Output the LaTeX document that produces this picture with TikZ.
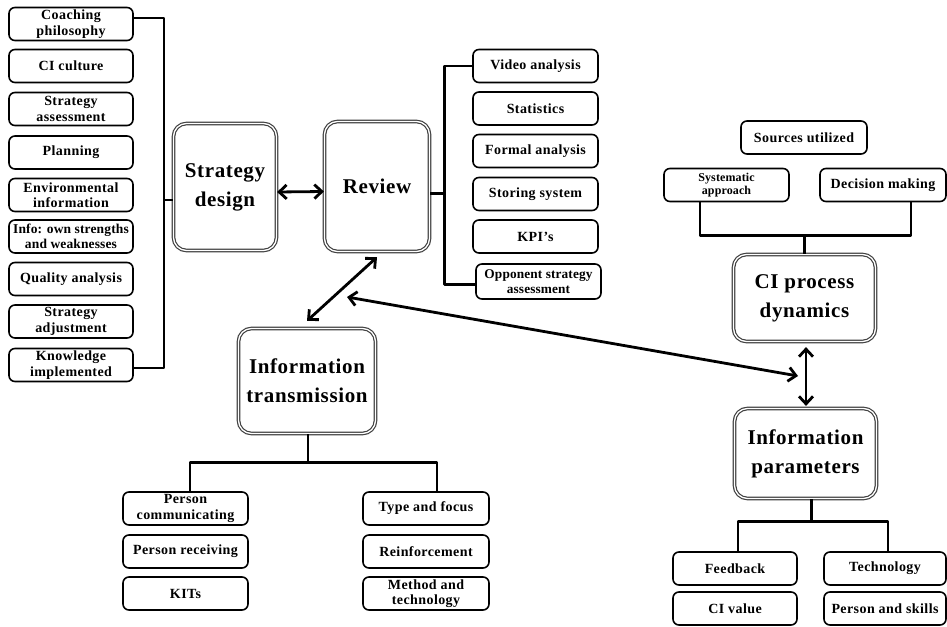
\documentclass[tikz,border=0pt]{standalone}
\usepackage{fontspec}
\setmainfont{Liberation Serif}
\newfontfamily\boxfont[LetterSpace=3]{Liberation Serif}
\newfontfamily\tightfont[LetterSpace=1]{Liberation Serif}
\usetikzlibrary{arrows.meta}
\begin{document}
\begin{tikzpicture}[x=1pt,y=-1pt,line join=round,
 sbox/.style={draw=black, line width=1.6pt, rounded corners=6pt, fill=white, minimum width=124pt, minimum height=33pt, inner sep=0pt, align=center, font=\boxfont\bfseries\fontsize{14}{15.5}\selectfont},
 bbox/.style={draw=black!75, double=white, double distance=1.3pt, line width=1.2pt, rounded corners=13pt, fill=white, align=center, inner sep=0pt, font=\boxfont\bfseries\fontsize{21}{29}\selectfont},
 conn/.style={line width=2.6pt},
 arr/.style={line width=2.8pt, {Straight Barb[length=7.5pt,width=14pt]}-{Straight Barb[length=7.5pt,width=14pt]}},
]
\fill[white] (0,0) rectangle (947,626);
\useasboundingbox (0,0) rectangle (947,626);

% left column
\node[sbox] (c1) at (71,24) {Coaching\\philosophy};
\node[sbox] (c2) at (71,66) {CI culture};
\node[sbox] (c3) at (71,109) {Strategy\\assessment};
\node[sbox] (c4) at (71,152.5) {Planning};
\node[sbox] (c5) at (71,195) {Environmental\\information};
\node[sbox, font=\tightfont\bfseries\fontsize{13.5}{15.5}\selectfont] (c6) at (71,236.5) {Info: own strengths\\and weaknesses};
\node[sbox] (c7) at (71,279) {Quality analysis};
\node[sbox] (c8) at (71,321.5) {Strategy\\adjustment};
\node[sbox] (c9) at (71,365) {Knowledge\\implemented};

% big boxes
\node[bbox, minimum width=103pt, minimum height=127pt] (sd) at (225,187) {Strategy\\design};
\node[bbox, minimum width=105pt, minimum height=130pt] (rev) at (377,186.5) {Review};
\node[bbox, minimum width=137pt, minimum height=105pt] (it) at (307,381) {Information\\transmission};
\node[bbox, minimum width=142pt, minimum height=87pt] (ci) at (804.5,298) {CI process\\dynamics};
\node[bbox, minimum width=142pt, minimum height=90pt] (ip) at (805.5,453.5) {Information\\parameters};

% review column
\node[sbox, minimum width=125pt] (r1) at (535.5,66) {Video analysis};
\node[sbox, minimum width=125pt] (r2) at (535.5,108.5) {Statistics};
\node[sbox, minimum width=125pt] (r3) at (535.5,151) {Formal analysis};
\node[sbox, minimum width=125pt] (r4) at (535.5,194) {Storing system};
\node[sbox, minimum width=125pt] (r5) at (535.5,236.5) {KPI’s};
\node[sbox, minimum width=125pt, minimum height=35pt, font=\tightfont\bfseries\fontsize{13.3}{15}\selectfont] (r6) at (538.5,281.5) {Opponent strategy\\assessment};

% CI process dynamics
\node[sbox, minimum width=126pt] (su) at (804,137.5) {Sources utilized};
\node[sbox, minimum width=125pt, font=\tightfont\bfseries\fontsize{12}{13.5}\selectfont] (sa) at (726.5,185) {Systematic\\approach};
\node[sbox, minimum width=126pt] (dm) at (883,185) {Decision making};

% information parameters
\node[sbox] (fb) at (735,568.5) {Feedback};
\node[sbox] (cv) at (735,608.5) {CI value};
\node[sbox, minimum width=122pt] (te) at (885,568.5) {Technology};
\node[sbox, minimum width=122pt] (ps) at (885,608.5) {Person and skills};

% information transmission
\node[sbox, minimum width=125pt] (pc) at (185.5,508.5) {Person\\communicating};
\node[sbox, minimum width=125pt] (pr) at (185.5,551.5) {Person receiving};
\node[sbox, minimum width=125pt] (kt) at (185.5,593.5) {KITs};
\node[sbox, minimum width=126pt] (tf) at (426,508.5) {Type and focus};
\node[sbox, minimum width=126pt] (rf) at (426,551.5) {Reinforcement};
\node[sbox, minimum width=126pt] (mt) at (426,593.5) {Method and\\technology};

% brackets
\draw[conn] ([yshift=6pt]c1.east) -- ++(30,0) |- ([yshift=-3pt]c9.east);
\draw[conn] ([yshift=-13pt]sd.west) -- ++(-9,0);
\draw[conn] ([yshift=-7pt]rev.east) -- ++(14,0);
\draw[conn] (r1.west) -- ++(-28,0) |- ([yshift=-3pt]r6.west);
\draw[conn] (ci.north) -- ++(0,-18);
\draw[conn] ([xshift=-26.5pt]sa.south) -- ++(0,33) -| ([xshift=28pt]dm.south);
\draw[conn] ([xshift=6pt]ip.south) -- ++(0,22);
\draw[conn] ([xshift=3pt]fb.north) -- ++(0,-30) -| ([xshift=3pt]te.north);
\draw[conn] ([xshift=1pt]it.south) -- ++(0,28);
\draw[conn] ([xshift=4.5pt]pc.north) -- ++(0,-29) -| ([xshift=11pt]tf.north);

% arrows
\draw[arr] ([yshift=-5pt]sd.east) -- ([yshift=-5pt]rev.west);
\draw[arr] ([yshift=-5pt]rev.south) -- ([yshift=7pt]it.north);
\coordinate (la1) at (347,297);
\coordinate (la2) at (798,376);
\draw[arr] (la1) -- (la2);
\draw[arr] ([xshift=1.5pt,yshift=-5pt]ci.south) -- ([xshift=0.5pt,yshift=2pt]ip.north);
\end{tikzpicture}
\end{document}
